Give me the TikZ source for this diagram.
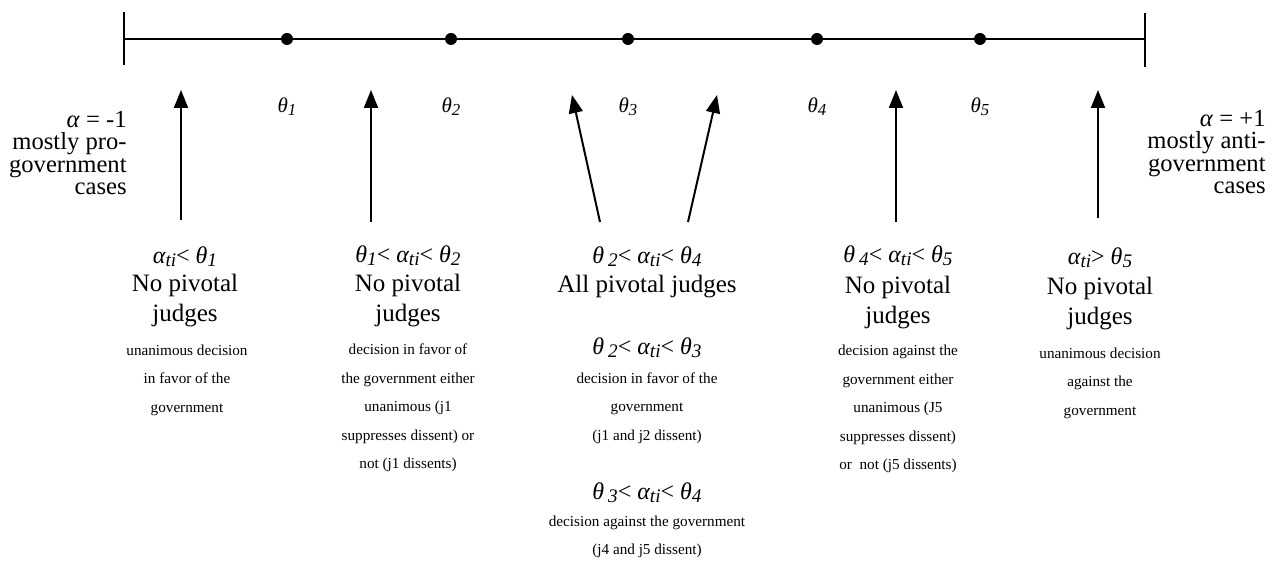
\documentclass[tikz,border=0pt]{standalone}
\usepackage{fontspec}
\setmainfont{Liberation Serif}
\usepackage{tikz}
\usetikzlibrary{arrows.meta,positioning}

\makeatletter
\newcommand{\lsub}[1]{\raisebox{-0.3ex}{\fontsize{\fpeval{0.8*\f@size}}{0}\selectfont #1}}
\makeatother

\begin{document}
\begin{tikzpicture}[x=0.5pt,y=-0.5pt,
   axis/.style={line width=1pt},
   pt/.style={circle,fill,inner sep=0pt,minimum size=6pt},
   thlbl/.style={font=\fontsize{10.5}{12}\selectfont\itshape,inner sep=0pt},
   up/.style={-{Triangle[length=9pt,width=7pt]},line width=1pt},
   endtxt/.style={font=\fontsize{12.3}{11.2}\selectfont,align=right,inner sep=0pt},
   cond/.style={font=\fontsize{12}{13}\selectfont,inner sep=0pt},
   head/.style={font=\fontsize{12.5}{15}\selectfont,align=center,inner sep=0pt},
   note/.style={font=\fontsize{7.6}{14.25}\selectfont,align=center,inner sep=0pt}]
  \useasboundingbox (0,0) rectangle (1280,565);
  % the alpha axis
  \coordinate (lo) at (124,39);
  \coordinate (hi) at (1145,39);
  \draw[axis] (lo)--(hi);
  \draw[axis] (lo) ++(0,-27) -- ++(0,53);
  \draw[axis] (hi) ++(0,-26) -- ++(0,54);
  \node[pt] (t1) at (287,39) {};
  \node[pt] (t2) at (451,39) {};
  \node[pt] (t3) at (628,39) {};
  \node[pt] (t4) at (817,39) {};
  \node[pt] (t5) at (980,39) {};
  \node[thlbl] (th1) at (287,107) {θ\lsub{1}};
  \node[thlbl] (th2) at (451,107) {θ\lsub{2}};
  \node[thlbl] (th3) at (628,107) {θ\lsub{3}};
  \node[thlbl] (th4) at (817,107) {θ\lsub{4}};
  \node[thlbl] (th5) at (980,107) {θ\lsub{5}};
  \node[endtxt,anchor=east] (lowend) at (127,153)
    {\textit{α} = -1\\mostly pro-\\government\\cases};
  \node[endtxt,anchor=east] (highend) at (1266,152)
    {\textit{α} = +1\\mostly anti-\\government\\cases};
  % arrows
  \coordinate (a1) at (181,220);  \coordinate (b1) at (181,90);
  \coordinate (a2) at (371,222);  \coordinate (b2) at (371,90);
  \coordinate (a3) at (600,222);  \coordinate (b3) at (572,95);
  \coordinate (a4) at (688,222);  \coordinate (b4) at (717,95);
  \coordinate (a5) at (896,222);  \coordinate (b5) at (896,90);
  \coordinate (a6) at (1098,218); \coordinate (b6) at (1098,90);
  \draw[up] (a1)--(b1);
  \draw[up] (a2)--(b2);
  \draw[up] (a3)--(b3);
  \draw[up] (a4)--(b4);
  \draw[up] (a5)--(b5);
  \draw[up] (a6)--(b6);
  % first region
  \node[cond] (r1) at (185,257) {\textit{α\lsub{ti}}< \textit{θ\lsub{1}}};
  \node[head] (h1) at (185,301) {No pivotal\\judges};
  \node[note] (n1) at (187,380) {unanimous decision\\in favor of the\\government};
  % second region
  \node[cond] (r2) at (408,256) {\textit{θ\lsub{1}}< \textit{α\lsub{ti}}< \textit{θ\lsub{2}}};
  \node[head] (h2) at (408,301) {No pivotal\\judges};
  \node[note] (n2) at (408,408) {decision in favor of\\the government either\\unanimous (j1\\suppresses dissent) or\\not (j1 dissents)};
  % middle region
  \node[cond] (r3) at (647,257) {\textit{θ\,\lsub{2}}< \textit{α\lsub{ti}}< \textit{θ\lsub{4}}};
  \node[head] (h3) at (647,287) {All pivotal judges};
  \node[cond] (r3a) at (647,348) {\textit{θ\,\lsub{2}}< \textit{α\lsub{ti}}< \textit{θ\lsub{3}}};
  \node[note] (n3a) at (647,408) {decision in favor of the\\government\\(j1 and j2 dissent)};
  \node[cond] (r3b) at (647,493) {\textit{θ\,\lsub{3}}< \textit{α\lsub{ti}}< \textit{θ\lsub{4}}};
  \node[note] (n3b) at (647,537) {decision against the government\\(j4 and j5 dissent)};
  % fourth region
  \node[cond] (r4) at (898,256) {\textit{θ\,\lsub{4}}< \textit{α\lsub{ti}}< \textit{θ\lsub{5}}};
  \node[head] (h4) at (898,303) {No pivotal\\judges};
  \node[note] (n4) at (898,409) {decision against the\\government either\\unanimous (J5\\suppresses dissent)\\or~ not (j5 dissents)};
  % last region
  \node[cond] (r5) at (1100,258) {\textit{α\lsub{ti}}> \textit{θ\lsub{5}}};
  \node[head] (h5) at (1100,304) {No pivotal\\judges};
  \node[note] (n5) at (1100,383) {unanimous decision\\against the\\government};
\end{tikzpicture}
\end{document}
